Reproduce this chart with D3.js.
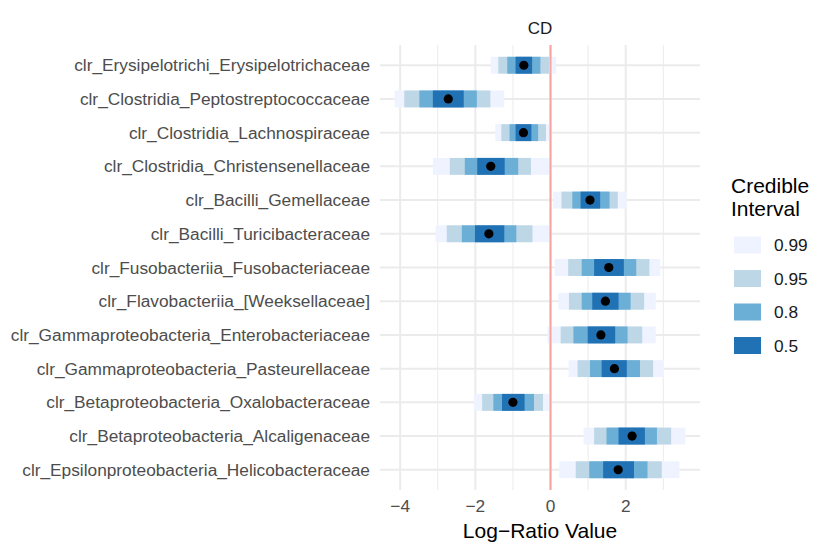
<!DOCTYPE html>
<html>
<head>
<meta charset="utf-8">
<title>Credible intervals CD</title>
<script src="https://d3js.org/d3.v7.min.js"></script>
<style>
  body { margin: 0; background: #fff; }
  text { font-family: "Liberation Sans", Arial, sans-serif; }
</style>
</head>
<body>
<script>
var w = 830, h = 554;

// taxa, top to bottom
var taxa = [
  "clr_Erysipelotrichi_Erysipelotrichaceae",
  "clr_Clostridia_Peptostreptococcaceae",
  "clr_Clostridia_Lachnospiraceae",
  "clr_Clostridia_Christensenellaceae",
  "clr_Bacilli_Gemellaceae",
  "clr_Bacilli_Turicibacteraceae",
  "clr_Fusobacteriia_Fusobacteriaceae",
  "clr_Flavobacteriia_[Weeksellaceae]",
  "clr_Gammaproteobacteria_Enterobacteriaceae",
  "clr_Gammaproteobacteria_Pasteurellaceae",
  "clr_Betaproteobacteria_Oxalobacteraceae",
  "clr_Betaproteobacteria_Alcaligenaceae",
  "clr_Epsilonproteobacteria_Helicobacteraceae"
];

var median = [-0.71, -2.72, -0.72, -1.59, 1.05, -1.64, 1.55, 1.46, 1.34, 1.70, -1.00, 2.17, 1.80];

// [low, high] per credible level
var ci99 = [[-1.59, 0.15], [-4.15, -1.23], [-1.47, -0.02], [-3.13, -0.04], [0.07, 2.02], [-3.06, -0.04], [0.11, 2.92], [0.21, 2.80], [-0.08, 2.80], [0.48, 3.02], [-2.04, 0.02], [0.88, 3.59], [0.23, 3.43]];
var ci95 = [[-1.39, -0.04], [-3.89, -1.60], [-1.31, -0.12], [-2.68, -0.52], [0.29, 1.79], [-2.76, -0.48], [0.47, 2.63], [0.49, 2.49], [0.27, 2.44], [0.72, 2.73], [-1.82, -0.20], [1.16, 3.21], [0.67, 2.96]];
var ci80 = [[-1.15, -0.27], [-3.49, -1.96], [-1.09, -0.33], [-2.28, -0.86], [0.58, 1.57], [-2.36, -0.91], [0.83, 2.28], [0.83, 2.13], [0.61, 2.05], [1.05, 2.38], [-1.52, -0.44], [1.49, 2.83], [1.03, 2.58]];
var ci50 = [[-0.93, -0.49], [-3.13, -2.31], [-0.93, -0.51], [-1.95, -1.22], [0.80, 1.32], [-2.01, -1.23], [1.16, 1.95], [1.11, 1.81], [0.99, 1.72], [1.36, 2.03], [-1.29, -0.69], [1.81, 2.51], [1.40, 2.22]];

var levels = ["0.99", "0.95", "0.8", "0.5"];
var levelColors = ["#eff3ff", "#bdd7e7", "#6baed6", "#2171b5"];
var xTicks = [-4, -2, 0, 2];

var panel = { left: 380, right: 700, top: 45, bottom: 490 };

var svg = d3.select("body").append("svg").attr("width", w).attr("height", h);

// x domain with ggplot-style 5% expansion
var lo = d3.min(ci99, function(d) { return d[0]; });
var hi = d3.max(ci99, function(d) { return d[1]; });
var pad = (hi - lo) * 0.05;
var x = d3.scaleLinear().domain([lo - pad, hi + pad]).range([panel.left, panel.right]);

var y = d3.scalePoint().domain(taxa).range([panel.top, panel.bottom]).padding(0.6);
var bh = y.step() * 0.5;

// grid
var minor = [-3, -1, 1, 3];
svg.selectAll("line.minor").data(minor).enter().append("line")
  .attr("x1", function(d) { return x(d); }).attr("x2", function(d) { return x(d); })
  .attr("y1", panel.top).attr("y2", panel.bottom)
  .attr("stroke", "#ebebeb").attr("stroke-width", 1);
svg.selectAll("line.major").data(xTicks).enter().append("line")
  .attr("x1", function(d) { return x(d); }).attr("x2", function(d) { return x(d); })
  .attr("y1", panel.top).attr("y2", panel.bottom)
  .attr("stroke", "#ebebeb").attr("stroke-width", 2);
svg.selectAll("line.hgrid").data(taxa).enter().append("line")
  .attr("x1", panel.left).attr("x2", panel.right)
  .attr("y1", function(d) { return y(d); }).attr("y2", function(d) { return y(d); })
  .attr("stroke", "#ebebeb").attr("stroke-width", 2);

// interval bars, widest first
var sets = [ci99, ci95, ci80, ci50];
sets.forEach(function(set, k) {
  svg.append("g").selectAll("rect").data(set).enter().append("rect")
    .attr("x", function(d) { return x(d[0]); })
    .attr("width", function(d) { return x(d[1]) - x(d[0]); })
    .attr("y", function(d, i) { return y(taxa[i]) - bh / 2; })
    .attr("height", bh)
    .attr("fill", levelColors[k]);
});

// zero line
svg.append("line")
  .attr("x1", x(0)).attr("x2", x(0))
  .attr("y1", panel.top).attr("y2", panel.bottom)
  .attr("stroke", "#f5a3a3").attr("stroke-width", 2);

// medians
svg.selectAll("circle").data(median).enter().append("circle")
  .attr("cx", function(d) { return x(d); })
  .attr("cy", function(d, i) { return y(taxa[i]); })
  .attr("r", 4.6)
  .attr("fill", "black");

// y labels
svg.selectAll("text.ylab").data(taxa).enter().append("text")
  .attr("x", 370).attr("y", function(d) { return y(d); })
  .attr("dy", "0.35em")
  .attr("text-anchor", "end")
  .attr("font-size", "17.3px")
  .attr("fill", "#4d4d4d")
  .text(function(d) { return d; });

// x tick labels
svg.selectAll("text.xlab").data(xTicks).enter().append("text")
  .attr("x", function(d) { return x(d); }).attr("y", 512)
  .attr("text-anchor", "middle")
  .attr("font-size", "17.3px")
  .attr("fill", "#4d4d4d")
  .text(function(d) { return d < 0 ? "\u2212" + Math.abs(d) : d; });

// axis title + strip
svg.append("text").attr("x", (panel.left + panel.right) / 2).attr("y", 538)
  .attr("text-anchor", "middle").attr("font-size", "21px").attr("fill", "#000")
  .text("Log\u2212Ratio Value");
svg.append("text").attr("x", (panel.left + panel.right) / 2).attr("y", 34)
  .attr("text-anchor", "middle").attr("font-size", "17px").attr("fill", "#1a1a1a")
  .text("CD");

// legend
var lg = svg.append("g");
lg.append("text").attr("x", 731).attr("y", 193).attr("font-size", "21px").text("Credible");
lg.append("text").attr("x", 731).attr("y", 216).attr("font-size", "21px").text("Interval");
lg.selectAll("rect").data(levels).enter().append("rect")
  .attr("x", 734).attr("y", function(d, i) { return 236.5 + i * 33.5; })
  .attr("width", 27).attr("height", 17)
  .attr("fill", function(d, i) { return levelColors[i]; });
lg.selectAll("text.key").data(levels).enter().append("text")
  .attr("x", 774).attr("y", function(d, i) { return 245 + i * 33.5; })
  .attr("dy", "0.35em").attr("font-size", "17.3px").attr("fill", "#1a1a1a")
  .text(function(d) { return d; });
</script>
</body>
</html>
